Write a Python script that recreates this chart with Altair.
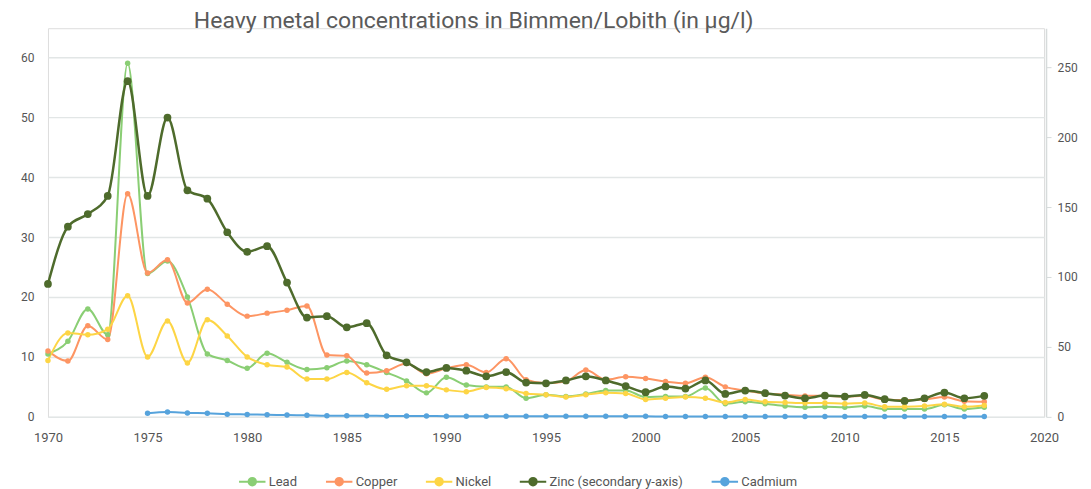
import altair as alt
import pandas as pd

years = list(range(1970, 2018))

lead = [10.5, 12.6, 18.0, 13.7, 59.0, 23.9, 26.0, 20.0, 10.5, 9.4,
        8.1, 10.6, 9.1, 7.9, 8.2, 9.3, 8.7, 7.4, 6.0, 4.0,
        6.6, 5.3, 5.0, 5.0, 3.1, 3.7, 3.4, 3.8, 4.4, 4.4,
        3.3, 3.4, 3.4, 4.8, 2.2, 2.5, 2.2, 1.8, 1.6, 1.7,
        1.6, 1.8, 1.3, 1.3, 1.3, 2.0, 1.3, 1.6]

copper = [11.0, 9.3, 15.2, 12.9, 37.2, 24.0, 26.2, 19.0, 21.3, 18.8,
          16.8, 17.3, 17.8, 18.5, 10.3, 10.2, 7.3, 7.7, 8.9, 7.2,
          8.1, 8.7, 7.4, 9.7, 6.2, 5.6, 5.9, 7.8, 6.2, 6.7,
          6.4, 5.9, 5.6, 6.6, 5.0, 4.4, 3.9, 3.7, 3.5, 3.5,
          3.4, 3.5, 2.9, 2.8, 2.9, 3.3, 2.6, 2.5]

nickel = [9.4, 14.0, 13.7, 14.6, 20.2, 10.0, 16.0, 9.0, 16.2, 13.5,
          10.0, 8.7, 8.3, 6.3, 6.3, 7.4, 5.7, 4.6, 5.2, 5.2,
          4.5, 4.2, 4.9, 4.7, 3.9, 3.7, 3.3, 3.7, 4.0, 3.9,
          2.9, 3.1, 3.3, 3.1, 2.4, 2.9, 2.5, 2.4, 2.3, 2.3,
          2.2, 2.3, 1.7, 1.7, 1.8, 2.1, 1.7, 1.9]

zinc = [95, 136, 145, 158, 240, 158, 214, 162, 156, 132,
        118, 122, 96, 71, 72, 64, 67, 44, 39, 32,
        35, 33, 29, 32, 24.5, 24, 26, 29, 26, 22,
        17.6, 21.7, 20.2, 26, 16.4, 18.8, 16.9, 15.2, 13.3, 15.2,
        14.5, 15.7, 12.6, 11.4, 13.3, 17.4, 13.3, 15]

cadmium_years = list(range(1975, 2018))
cadmium = [0.6, 0.8, 0.65, 0.6, 0.45, 0.4, 0.35, 0.3, 0.25, 0.2,
           0.2, 0.2, 0.15, 0.15, 0.15, 0.1, 0.1, 0.1, 0.1, 0.1,
           0.1, 0.1, 0.1, 0.1, 0.1, 0.1, 0.05, 0.05, 0.05, 0.05,
           0.05, 0.05, 0.05, 0.05, 0.05, 0.05, 0.05, 0.05, 0.05, 0.05,
           0.05, 0.05, 0.05]

metals = ["Lead", "Copper", "Nickel", "Zinc (secondary y-axis)", "Cadmium"]
colors = ["#8ace74", "#fd9563", "#fdd545", "#4e6b2c", "#56a3dc"]

left_rows = []
for name, vals, yrs in [("Lead", lead, years), ("Copper", copper, years),
                        ("Nickel", nickel, years), ("Cadmium", cadmium, cadmium_years)]:
    for yv, v in zip(yrs, vals):
        left_rows.append({"year": yv, "value": v, "metal": name})
left_df = pd.DataFrame(left_rows)
zinc_df = pd.DataFrame({"year": years, "value": zinc, "metal": "Zinc (secondary y-axis)"})

x_enc = alt.X("year:Q", scale=alt.Scale(domain=[1970, 2020], nice=False),
              axis=alt.Axis(values=list(range(1970, 2021, 5)), format="d", title=None,
                            grid=False, domain=False, ticks=False, labelPadding=15,
                            labelFlush=False, labelFontSize=13, labelColor="#555555"))

legend_path = "M-1,0L-0.28,0M0.28,0L1,0M-0.28,0A0.28,0.28 0 1,1 0.28,0A0.28,0.28 0 1,1 -0.28,0"

color_enc = alt.Color("metal:N", scale=alt.Scale(domain=metals, range=colors),
                      legend=alt.Legend(title=None, orient="none", direction="horizontal",
                                        legendX=190, legendY=439,
                                        symbolType=legend_path, symbolSize=700,
                                        symbolStrokeWidth=2, labelFontSize=13,
                                        labelColor="#555555", columnPadding=24,
                                        labelOffset=2))

left = alt.Chart(left_df).mark_line(
    interpolate="monotone", strokeWidth=2,
    point=alt.OverlayMarkDef(size=30, filled=True, opacity=1)
).encode(
    x=x_enc,
    y=alt.Y("value:Q", scale=alt.Scale(domain=[0, 64.83], nice=False),
            axis=alt.Axis(values=list(range(0, 61, 10)), title=None, domain=False,
                          ticks=False, labelPadding=14, labelFontSize=12,
                          labelColor="#555555", gridColor="#e2e6e6", gridWidth=1.5)),
    color=color_enc,
    order=alt.Order("year:Q"),
    detail="metal:N",
)

right = alt.Chart(zinc_df).mark_line(
    interpolate="monotone", strokeWidth=2.5,
    point=alt.OverlayMarkDef(size=60, filled=True, opacity=1)
).encode(
    x=x_enc,
    y=alt.Y("value:Q", scale=alt.Scale(domain=[0, 277.9], nice=False),
            axis=alt.Axis(orient="right", values=list(range(0, 251, 50)), title=None,
                          grid=False, domain=True, domainColor="#d6dbdb", domainWidth=1.5,
                          ticks=True, tickColor="#d6dbdb", tickSize=5, labelPadding=6,
                          labelFontSize=12, labelColor="#555555", offset=2)),
    color=color_enc,
)

chart = alt.layer(left, right).resolve_scale(y="independent").properties(
    width=997, height=389,
    title=alt.TitleParams("Heavy metal concentrations in Bimmen/Lobith (in µg/l)",
                          anchor="start", frame="group", dx=146, fontSize=23,
                          fontWeight="normal", color="#5a5a5a", font="Roboto", offset=-5),
    padding={"left": 12, "top": 2, "right": 5, "bottom": 5},
).configure_view(stroke=None).configure(font="Roboto")

chart.save("out.html", embed_options={"renderer": "svg", "actions": False})
